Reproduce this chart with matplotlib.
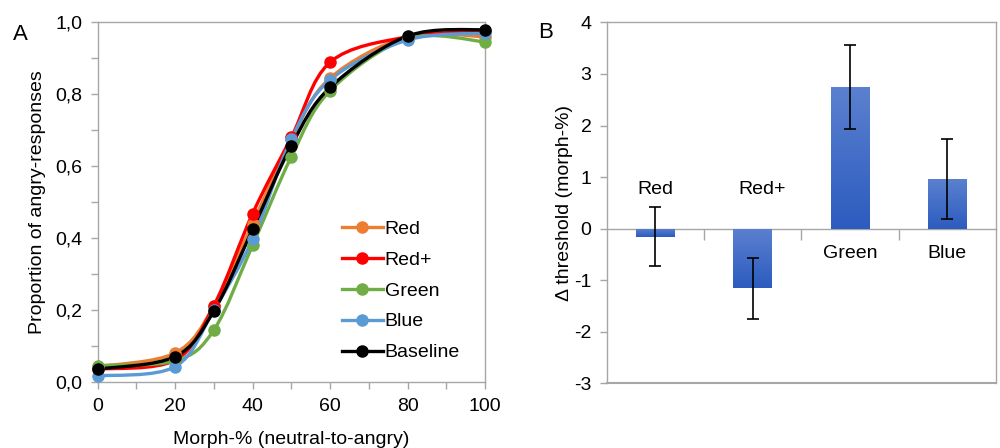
import numpy as np
import matplotlib
matplotlib.use("Agg")
import matplotlib.pyplot as plt
from matplotlib.path import Path
from matplotlib.patches import PathPatch
from matplotlib.ticker import FuncFormatter, MultipleLocator

plt.rcParams['font.family'] = ['Liberation Sans', 'DejaVu Sans']

# panel A: proportion of angry responses per morph level
morph = [0, 20, 30, 40, 50, 60, 80, 100]
series_names = ["Red", "Red+", "Green", "Blue", "Baseline"]
red = [0.042, 0.080, 0.210, 0.440, 0.675, 0.845, 0.960, 0.960]
red_plus = [0.035, 0.060, 0.212, 0.468, 0.680, 0.889, 0.960, 0.975]
green = [0.045, 0.058, 0.144, 0.380, 0.626, 0.810, 0.955, 0.946]
blue = [0.016, 0.042, 0.200, 0.397, 0.675, 0.840, 0.951, 0.970]
baseline = [0.035, 0.070, 0.197, 0.424, 0.657, 0.819, 0.962, 0.980]
series_colors = ["#ed7d31", "#ff0000", "#70ad47", "#5b9bd5", "#000000"]

# panel B: change in threshold
conditions = ["Red", "Red+", "Green", "Blue"]
delta = [-0.16, -1.16, 2.75, 0.96]
delta_err = [0.57, 0.59, 0.82, 0.78]

GRID = "#a6a6a6"
FS = 14


def smooth_path(ax, xs, ys):
    # excel-like smoothed line: bezier segments drawn in display space
    pts = ax.transData.transform(np.column_stack([xs, ys]))
    p = np.vstack([pts[0], pts, pts[-1]])
    verts = [pts[0]]
    codes = [Path.MOVETO]
    for i in range(1, len(p) - 2):
        c1 = p[i] + (p[i + 1] - p[i - 1]) / 6.0
        c2 = p[i + 1] - (p[i + 2] - p[i]) / 6.0
        verts += [c1, c2, p[i + 1]]
        codes += [Path.CURVE4] * 3
    verts = ax.transData.inverted().transform(np.array(verts))
    return Path(verts, codes)


def comma_fmt(v, p):
    return f"{v:.1f}".replace(".", ",")


fig = plt.figure(figsize=(10, 4.48), dpi=100)

# ---- panel A
ax1 = fig.add_axes([0.0977, 0.148, 0.3873, 0.802])
ax1.set_xlim(0, 100)
ax1.set_ylim(0, 1)
for s in ax1.spines.values():
    s.set_color(GRID)
    s.set_linewidth(1)

all_series = [red, red_plus, green, blue, baseline]
for name, vals, col in zip(series_names, all_series, series_colors):
    path = smooth_path(ax1, morph, vals)
    ax1.add_patch(PathPatch(path, facecolor="none", edgecolor=col, lw=2.4,
                            clip_on=False, zorder=3))
    ax1.plot(morph, vals, "o", color=col, markersize=8, clip_on=False,
             zorder=4)
    ax1.plot([], [], "-o", color=col, lw=2.4, markersize=8, label=name)

ax1.xaxis.set_major_locator(MultipleLocator(20))
ax1.xaxis.set_minor_locator(MultipleLocator(10))
ax1.yaxis.set_major_locator(MultipleLocator(0.2))
ax1.yaxis.set_minor_locator(MultipleLocator(0.1))
ax1.yaxis.set_major_formatter(FuncFormatter(comma_fmt))
ax1.tick_params(which="both", direction="out", color=GRID, length=5, width=1)
ax1.tick_params(axis="y", labelsize=FS, pad=6)
ax1.tick_params(axis="x", labelsize=FS, pad=7)
ax1.set_xlabel("Morph-% (neutral-to-angry)", fontsize=FS, labelpad=11)
ax1.set_ylabel("Proportion of angry-responses", fontsize=FS, labelpad=7)
ax1.legend(loc="lower left", bbox_to_anchor=(0.585, 0.008), frameon=False,
           fontsize=FS, handlelength=2.1, handletextpad=0.1, labelspacing=0.68)

fig.text(0.013, 0.91, "A", fontsize=16)
fig.text(0.538, 0.915, "B", fontsize=16)

# ---- panel B
ax2 = fig.add_axes([0.6067, 0.1444, 0.3893, 0.8056])
xpos = np.arange(len(conditions))
bars = ax2.bar(xpos, delta, width=0.4, color="#3d68c6", zorder=2)
ax2.errorbar(xpos, delta, yerr=delta_err, fmt="none", ecolor="black",
             elinewidth=1.2, capsize=4, capthick=1.2, zorder=4)

grad = np.linspace(0, 1, 100).reshape(-1, 1)
cmap = matplotlib.colors.LinearSegmentedColormap.from_list("bg", ["#5b80cf", "#2c5cbf"])
for b in bars:
    x0, y0 = b.get_x(), b.get_y()
    w, h = b.get_width(), b.get_height()
    ylo, yhi = min(y0, y0 + h), max(y0, y0 + h)
    im = ax2.imshow(grad, cmap=cmap, aspect="auto",
                    extent=[x0, x0 + w, ylo, yhi], origin="upper", zorder=3)
    im.set_clip_path(b)

ax2.set_xlim(-0.5, len(conditions) - 0.5)
ax2.set_ylim(-3, 4)
ax2.spines["bottom"].set_position(("data", 0))
for s in ax2.spines.values():
    s.set_color(GRID)
    s.set_linewidth(1)
ax2.axhline(-3, color=GRID, lw=1.5, clip_on=False)
ax2.set_xticks(xpos[:-1] + 0.5)
ax2.set_xticklabels([])
ax2.tick_params(axis="x", direction="out", color=GRID, length=8, width=1)
ax2.yaxis.set_major_locator(MultipleLocator(1))
ax2.yaxis.set_major_formatter(FuncFormatter(lambda v, p: f"{v:.0f}"))
ax2.tick_params(axis="y", direction="out", color=GRID, length=5, width=1,
                labelsize=FS, pad=6)
ax2.set_ylabel("\u0394 threshold (morph-%)", fontsize=FS, labelpad=1)

for x, name, v in zip(xpos, conditions, delta):
    if name in ("Red", "Red+"):
        ax2.text(x + (0.1 if name == "Red+" else 0), 0.75, name, ha="center",
                 va="center", fontsize=FS)
    else:
        ax2.text(x, -0.49, name, ha="center", va="center", fontsize=FS)

fig.savefig("out.png", dpi=100)
